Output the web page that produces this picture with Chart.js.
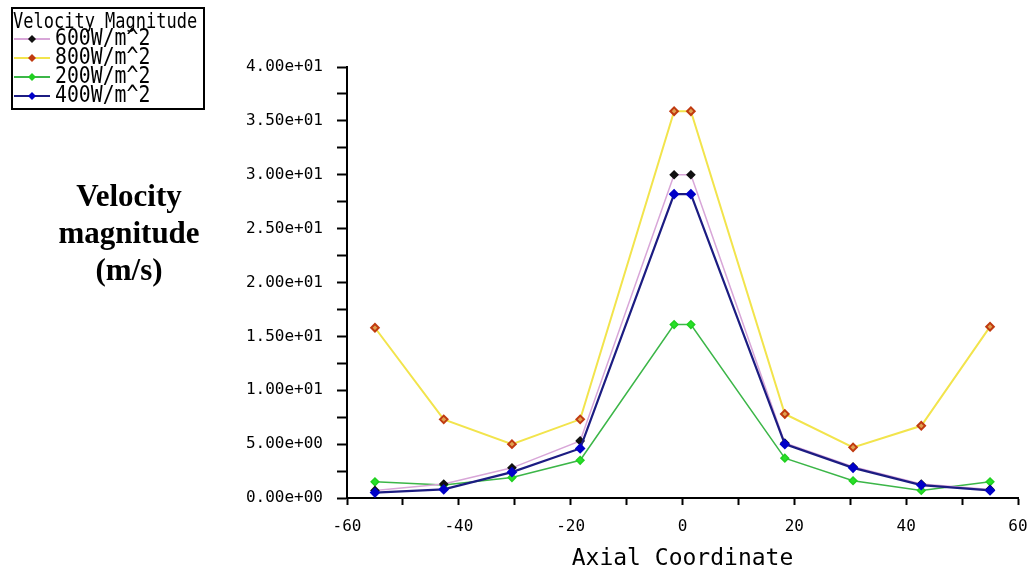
<!DOCTYPE html>
<html>
<head>
<meta charset="utf-8">
<script src="https://cdn.jsdelivr.net/npm/chart.js@4.4.1/dist/chart.umd.min.js"></script>
<style>
  html, body { margin: 0; padding: 0; background: #fff; }
  #velChart { display: block; }
</style>
</head>
<body>
<canvas id="velChart" width="1029" height="575"></canvas>
<script>
// data
const axialX  = [-55, -42.7, -30.5, -18.3, -1.5, 1.5, 18.3, 30.5, 42.7, 55];
const vel600  = [0.7, 1.3, 2.8, 5.3, 30.0, 30.0, 5.1, 2.9, 1.3, 0.8];
const vel800  = [15.8, 7.3, 5.0, 7.3, 35.9, 35.9, 7.8, 4.7, 6.7, 15.9];
const vel200  = [1.5, 1.2, 1.9, 3.5, 16.1, 16.1, 3.7, 1.6, 0.7, 1.5];
const vel400  = [0.5, 0.8, 2.4, 4.6, 28.2, 28.2, 5.0, 2.8, 1.2, 0.7];
const seriesLabels = ['600W/m^2', '800W/m^2', '200W/m^2', '400W/m^2'];
const legendTitle = 'Velocity Magnitude';
const yTitleLines = ['Velocity', 'magnitude', '(m/s)'];
const xTitle = 'Axial Coordinate';

const pts = arr => arr.map((v, i) => ({ x: axialX[i], y: v }));

// 4.00e+01 style labels
const sci = v => v.toExponential(2).replace(/e([+-])(\d)$/, 'e$10$2');

const MONO = '"DejaVu Sans Mono"';

// tall, narrow text like the original bitmap font
function tallText(ctx, txt, x, y, sx, sy) {
    ctx.save();
    ctx.translate(x, y);
    ctx.scale(sx, sy);
    ctx.fillText(txt, 0, 0);
    ctx.restore();
}

// legend box in the top-left corner
const legendBox = {
    id: 'legendBox',
    afterDraw(chart) {
        const ctx = chart.ctx;
        ctx.save();
        ctx.strokeStyle = '#000';
        ctx.lineWidth = 2;
        ctx.strokeRect(12, 8, 192, 101);
        ctx.fillStyle = '#000';
        ctx.textBaseline = 'middle';
        ctx.font = '17px ' + MONO;
        tallText(ctx, legendTitle, 13, 22, 1.0, 1.25);
        ctx.font = '18px ' + MONO;
        chart.data.datasets.forEach((ds, i) => {
            const y = 39 + i * 19;
            ctx.strokeStyle = ds.borderColor;
            ctx.lineWidth = 2;
            ctx.beginPath();
            ctx.moveTo(14, y);
            ctx.lineTo(50, y);
            ctx.stroke();
            ctx.fillStyle = ds.pointBorderColor;
            ctx.beginPath();
            ctx.moveTo(32, y - 4);
            ctx.lineTo(36, y);
            ctx.lineTo(32, y + 4);
            ctx.lineTo(28, y);
            ctx.closePath();
            ctx.fill();
            ctx.fillStyle = '#000';
            tallText(ctx, ds.label, 55, y, 1.1, 1.3);
        });
        ctx.restore();
    }
};

// bold serif y title on the left
const yTitle = {
    id: 'yTitle',
    afterDraw(chart) {
        const ctx = chart.ctx;
        ctx.save();
        ctx.fillStyle = '#000';
        ctx.font = 'bold 31px "Liberation Serif"';
        ctx.textAlign = 'center';
        ctx.textBaseline = 'middle';
        yTitleLines.forEach((t, i) => ctx.fillText(t, 129, 198 + i * 37));
        ctx.restore();
    }
};

const ctx = document.getElementById('velChart').getContext('2d');
new Chart(ctx, {
    type: 'line',
    data: {
        datasets: [
            { label: seriesLabels[0], data: pts(vel600), borderColor: '#d8a6d8', borderWidth: 1.5,
              pointBackgroundColor: '#111', pointBorderColor: '#111', order: 1 },
            { label: seriesLabels[1], data: pts(vel800), borderColor: '#f2e44c', borderWidth: 2,
              pointBackgroundColor: '#e0a050', pointBorderColor: '#c03a10', order: 3 },
            { label: seriesLabels[2], data: pts(vel200), borderColor: '#3cb648', borderWidth: 1.5,
              pointBackgroundColor: '#28e028', pointBorderColor: '#20d020', order: 2 },
            { label: seriesLabels[3], data: pts(vel400), borderColor: '#1c1c82', borderWidth: 2.2,
              pointBackgroundColor: '#0000c8', pointBorderColor: '#0000c8', order: 0 }
        ]
    },
    options: {
        responsive: false,
        animation: false,
        layout: { padding: { left: 0, right: 0, top: 67, bottom: 0 } },
        elements: {
            point: { pointStyle: 'rectRot', radius: 3.8, borderWidth: 1 },
            line: { tension: 0 }
        },
        plugins: { legend: { display: false }, tooltip: { enabled: false } },
        scales: {
            x: {
                type: 'linear', min: -60, max: 60,
                afterFit: s => { s.height = 77; s.paddingRight = 11; },
                border: { color: '#000', width: 2 },
                grid: { drawOnChartArea: false, tickLength: 7, tickColor: '#000', tickWidth: 2 },
                ticks: {
                    stepSize: 10, autoSkip: false, maxRotation: 0, padding: 12,
                    color: '#000', font: { family: 'DejaVu Sans Mono', size: 16 },
                    callback: v => (v % 20 === 0 ? String(v) : '')
                },
                title: {
                    display: true, text: xTitle, color: '#000',
                    font: { family: 'DejaVu Sans Mono', size: 23 },
                    padding: { top: 0, bottom: 2 }
                }
            },
            y: {
                min: 0, max: 40,
                afterFit: s => { s.width = 347; },
                border: { color: '#000', width: 2 },
                grid: { drawOnChartArea: false, tickLength: 10, tickColor: '#000', tickWidth: 2 },
                ticks: {
                    stepSize: 2.5, autoSkip: false, padding: 14,
                    color: '#000', font: { family: 'DejaVu Sans Mono', size: 16 },
                    callback: v => (Math.abs(v % 5) < 1e-9 ? sci(v) : '')
                }
            }
        }
    },
    plugins: [legendBox, yTitle]
});
</script>
</body>
</html>
